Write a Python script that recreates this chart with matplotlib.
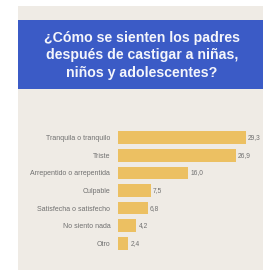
import matplotlib
matplotlib.use("Agg")
import matplotlib.pyplot as plt
from matplotlib.patches import Rectangle

categories = ["Tranquila o tranquilo", "Triste", "Arrepentido o arrepentida",
              "Culpable", "Satisfecha o satisfecho", "No siento nada", "Otro"]
values = [29.3, 26.9, 16.0, 7.5, 6.8, 4.2, 2.4]
value_labels = ["29,3", "26,9", "16,0", "7,5", "6,8", "4,2", "2,4"]
title = "¿Cómo se sienten los padres\ndespués de castigar a niñas,\nniños y adolescentes?"

W, H = 263, 270
fig = plt.figure(figsize=(W/100, H/100), dpi=100)
fig.patch.set_facecolor("white")

def fx(px): return px / W
def fy(py): return 1 - py / H

# beige panel
fig.patches.append(Rectangle((fx(18), 0), 1 - fx(18), fy(6), transform=fig.transFigure,
                             facecolor="#efebe5", edgecolor="none", zorder=-2))
# blue header
fig.patches.append(Rectangle((fx(18), fy(89)), 1 - fx(18), fy(20) - fy(89), transform=fig.transFigure,
                             facecolor="#3b5bc6", edgecolor="none", zorder=-1))
fig.text(fx(142), fy(55.5), title, ha="center", va="center", color="#f4f5fb",
         fontsize=10.2, fontweight="bold", family=["Liberation Sans", "DejaVu Sans"],
         linespacing=1.3, zorder=2)

lab_font = ["Liberation Sans Narrow", "Liberation Sans", "DejaVu Sans"]

# axes: x from 118 to 246 px corresponds to 0..29.3
x0, x1 = 118, 246
scale = (x1 - x0) / 29.3
ax_right = W
xmax = (ax_right - x0) / scale
ax = fig.add_axes([fx(x0), fy(252), fx(ax_right) - fx(x0), fy(129) - fy(252)])
ax.set_zorder(5)
ax.set_facecolor("none")
ax.patch.set_alpha(0)
n = len(categories)
ypos = list(range(n))
ax.barh(ypos, values, height=0.72, color="#ecc062", edgecolor="none")
ax.set_xlim(0, xmax)
ax.set_ylim(n - 0.5, -0.5)
for y, v, lab in zip(ypos, values, value_labels):
    ax.text(v + 0.5, y, lab, va="center", ha="left", fontsize=4.8, color="#707070",
            family=lab_font)
ax.set_yticks(ypos)
ax.set_yticklabels(categories, fontsize=5.0, color="#707070", family=lab_font)
ax.tick_params(axis="y", length=0, pad=5.5)
ax.set_xticks([])
for s in ax.spines.values():
    s.set_visible(False)

fig.savefig("out.png", dpi=100, facecolor="white")
